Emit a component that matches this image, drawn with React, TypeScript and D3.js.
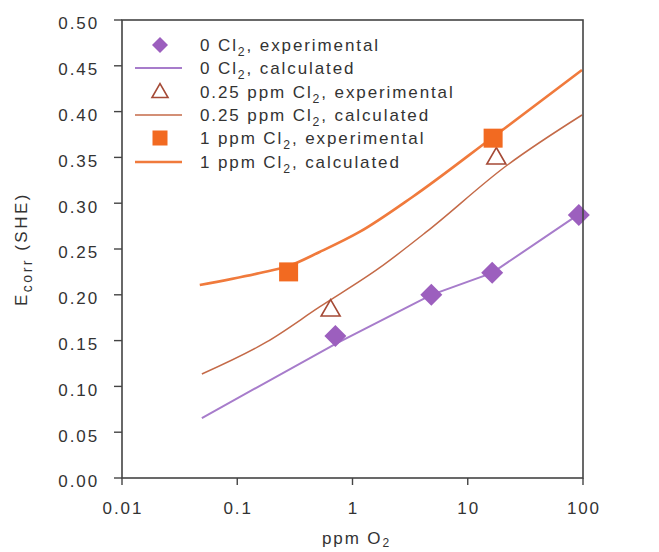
import React from "react";
import * as d3 from "d3";

const xTicks = [0.01, 0.1, 1, 10, 100];
const xTickLabels = ["0.01", "0.1", "1", "10", "100"];
const yTicks = [0, 0.05, 0.1, 0.15, 0.2, 0.25, 0.3, 0.35, 0.4, 0.45, 0.5];

// 0 Cl2 experimental
const exp0X = [0.71, 4.83, 16.3, 92];
const exp0Y = [0.155, 0.2, 0.224, 0.287];
// 0 Cl2 calculated
const calc0X = [0.0493, 0.726, 4.83, 16.3, 92.3];
const calc0Y = [0.0655, 0.147, 0.2, 0.224, 0.288];
// 0.25 ppm Cl2 experimental
const exp25X = [0.646, 17.7];
const exp25Y = [0.184, 0.35];
// 0.25 ppm Cl2 calculated
const calc25X = [0.0493, 0.18, 0.518, 1.71, 4.37, 21.5, 98];
const calc25Y = [0.1135, 0.1485, 0.1867, 0.2293, 0.2686, 0.3406, 0.3963];
// 1 ppm Cl2 experimental
const exp1X = [0.279, 16.6];
const exp1Y = [0.225, 0.371];
// 1 ppm Cl2 calculated
const calc1X = [0.0473, 0.157, 0.279, 0.518, 1.15, 3.31, 16.6, 98];
const calc1Y = [0.2107, 0.2238, 0.2314, 0.2467, 0.2686, 0.3068, 0.3723, 0.4454];

const PURPLE = "#9c5fbe";
const PURPLE_LINE = "#a77ccb";
const ORANGE = "#f26a21";
const ORANGE_LINE = "#f07a3c";
const BROWN_LINE = "#c46a48";
const TRI = "#a54a36";
const AXIS = "#444";
const TEXT = "#333";
const FONT = "Arial, 'Liberation Sans', Helvetica, sans-serif";
const LS = 1.9;

const W = 659, H = 552;
const L = 122, R = 583, T = 20, B = 478;

const zip = (xs: number[], ys: number[]) => xs.map((x, i) => [x, ys[i]] as [number, number]);

function Sub({ main, sub, rest, fs }: { main: string; sub: string; rest: string; fs: number }) {
  return (
    <>
      {main}
      <tspan dy={fs * 0.3} fontSize={fs * 0.72}>{sub}</tspan>
      <tspan dy={-fs * 0.3}>{rest}</tspan>
    </>
  );
}

export default function App() {
  const x = d3.scaleLog().domain([0.01, 100]).range([L, R]);
  const y = d3.scaleLinear().domain([0, 0.5]).range([B, T]);
  const smooth = d3.line<[number, number]>().x(d => x(d[0])).y(d => y(d[1])).curve(d3.curveMonotoneX);
  const straight = d3.line<[number, number]>().x(d => x(d[0])).y(d => y(d[1]));

  const diamond = (cx: number, cy: number, r: number, key?: any) => (
    <path key={key} d={`M${cx},${cy - r}L${cx + r},${cy}L${cx},${cy + r}L${cx - r},${cy}Z`} fill={PURPLE} />
  );
  const square = (cx: number, cy: number, s: number, key?: any) => (
    <rect key={key} x={cx - s / 2} y={cy - s / 2} width={s} height={s} fill={ORANGE} />
  );
  const triangle = (cx: number, cy: number, s: number, key?: any) => {
    const h = s * 0.87;
    return (
      <path key={key} d={`M${cx},${cy - h * 0.6}L${cx + s / 2},${cy + h * 0.4}L${cx - s / 2},${cy + h * 0.4}Z`}
        fill="#fff" stroke={TRI} strokeWidth={1.6} strokeLinejoin="miter" />
    );
  };

  const fs = 17;
  const legendRows = [
    { kind: "diamond", a: "0 Cl", b: ", experimental" },
    { kind: "line0", a: "0 Cl", b: ", calculated" },
    { kind: "tri", a: "0.25 ppm Cl", b: ", experimental" },
    { kind: "line25", a: "0.25 ppm Cl", b: ", calculated" },
    { kind: "square", a: "1 ppm Cl", b: ", experimental" },
    { kind: "line1", a: "1 ppm Cl", b: ", calculated" },
  ];
  const legY = [45, 68, 92, 115, 138, 162];

  return (
    <svg width={W} height={H} style={{ position: "absolute", left: 0, top: 0, background: "#fff" }} fontFamily={FONT}>
      <rect x={0} y={0} width={W} height={H} fill="#fff" />
      {/* calculated lines */}
      <path d={straight(zip(calc0X, calc0Y))!} fill="none" stroke={PURPLE_LINE} strokeWidth={2} />
      <path d={smooth(zip(calc25X, calc25Y))!} fill="none" stroke={BROWN_LINE} strokeWidth={1.5} />
      <path d={smooth(zip(calc1X, calc1Y))!} fill="none" stroke={ORANGE_LINE} strokeWidth={2.6} />
      {/* experimental */}
      {zip(exp0X, exp0Y).map((d, i) => diamond(x(d[0]), y(d[1]), 11, "d" + i))}
      {zip(exp25X, exp25Y).map((d, i) => triangle(x(d[0]), y(d[1]), 19, "t" + i))}
      {zip(exp1X, exp1Y).map((d, i) => square(x(d[0]), y(d[1]), 19, "s" + i))}

      {/* frame */}
      <rect x={L} y={T} width={R - L} height={B - T} fill="none" stroke={AXIS} strokeWidth={1.6} />
      {yTicks.map((t, i) => (
        <g key={"y" + i}>
          <line x1={L - 8} x2={L} y1={y(t)} y2={y(t)} stroke={AXIS} strokeWidth={1.4} />
          <text x={99} y={y(t) + 3.5} dy="0.35em" textAnchor="end" fontSize={fs} fill={TEXT}
            style={{ letterSpacing: LS }}>{t.toFixed(2)}</text>
        </g>
      ))}
      {xTicks.map((t, i) => (
        <g key={"x" + i}>
          <line x1={x(t)} x2={x(t)} y1={B} y2={B + 7} stroke={AXIS} strokeWidth={1.4} />
          <text x={x(t) + LS / 2} y={514} textAnchor="middle" fontSize={fs} fill={TEXT}
            style={{ letterSpacing: LS }}>{xTickLabels[i]}</text>
        </g>
      ))}
      <text x={(L + R) / 2 + 4} y={544} textAnchor="middle" fontSize={fs} fill={TEXT} style={{ letterSpacing: LS }}>
        ppm O<tspan dy={3} fontSize={12}>2</tspan>
      </text>
      <text transform={`translate(27,${(T + B) / 2}) rotate(-90)`} textAnchor="middle" fontSize={fs} fill={TEXT}
        style={{ letterSpacing: LS + 0.6 }}>
        E<tspan dy={5} fontSize={14}>corr</tspan><tspan dy={-5}> (SHE)</tspan>
      </text>

      {/* legend */}
      {legendRows.map((r, i) => {
        const cy = legY[i];
        let sym: any = null;
        if (r.kind === "diamond") sym = diamond(160, cy, 8);
        else if (r.kind === "tri") sym = triangle(160, cy, 16);
        else if (r.kind === "square") sym = square(160, cy, 15);
        else if (r.kind === "line0") sym = <line x1={135} x2={182} y1={cy} y2={cy} stroke={PURPLE_LINE} strokeWidth={2} />;
        else if (r.kind === "line25") sym = <line x1={135} x2={182} y1={cy} y2={cy} stroke={BROWN_LINE} strokeWidth={1.5} />;
        else sym = <line x1={135} x2={182} y1={cy} y2={cy} stroke={ORANGE_LINE} strokeWidth={2.6} />;
        return (
          <g key={"l" + i}>
            {sym}
            <text x={200} y={cy} dy="0.35em" fontSize={fs} fill={TEXT} style={{ letterSpacing: LS }}>
              <Sub main={r.a} sub="2" rest={r.b} fs={fs} />
            </text>
          </g>
        );
      })}
    </svg>
  );
}
